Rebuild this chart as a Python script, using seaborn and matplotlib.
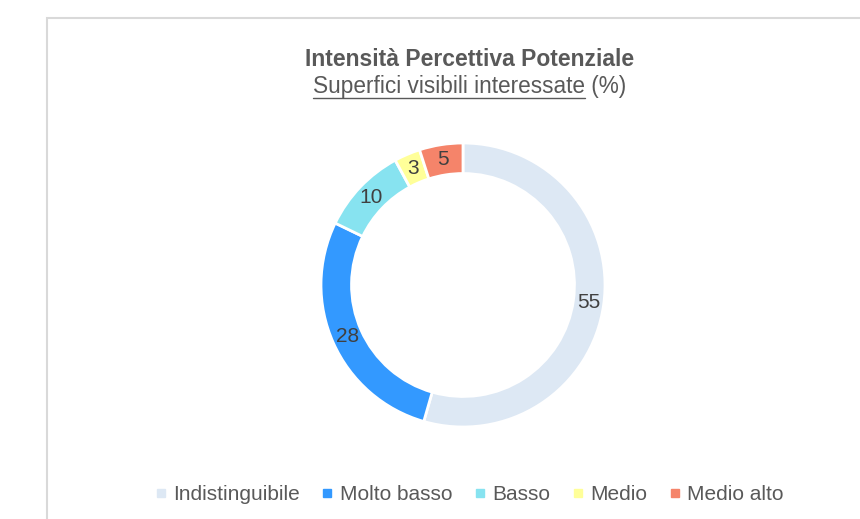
import matplotlib
matplotlib.use("Agg")
import matplotlib.pyplot as plt
from matplotlib.lines import Line2D
from matplotlib.patches import Rectangle
import numpy as np
import seaborn as sns

categories = ["Indistinguibile", "Molto basso", "Basso", "Medio", "Medio alto"]
values = [55, 28, 10, 3, 5]
colors = ["#dde8f4", "#3399ff", "#87e3f0", "#ffff99", "#f5846a"]
title = "Intensità Percettiva Potenziale"
subtitle_u = "Superfici visibili interessate"
subtitle_rest = " (%)"

sns.set_theme(style="white")
plt.rcParams["font.family"] = ["Liberation Sans", "DejaVu Sans"]

W, H = 860, 519
fig = plt.figure(figsize=(W / 100, H / 100), dpi=100)
fig.patch.set_facecolor("white")

# outer frame (partially clipped at right/bottom)
fig.add_artist(Rectangle((47 / W, -0.1), 1.0, (H - 18) / H + 0.1, transform=fig.transFigure,
                         fill=False, edgecolor="#d9d9d9", linewidth=1.5))

cx, cy, R = 463, 285, 142
ring = 0.215
ax = fig.add_axes([(cx - R) / W, (H - cy - R) / H, 2 * R / W, 2 * R / H])
wedges, _ = ax.pie(values, colors=colors, startangle=90, counterclock=False,
                   radius=1.0, wedgeprops=dict(width=ring, edgecolor="white", linewidth=2))
ax.set_xlim(-1, 1)
ax.set_ylim(-1, 1)
ax.set_aspect("equal")
ax.axis("off")

total = sum(values)
ang = 90.0
for v in values:
    mid = ang - v / total * 360 / 2
    ang -= v / total * 360
    r = 1.0 - ring / 2
    ax.text(r * np.cos(np.radians(mid)), r * np.sin(np.radians(mid)), str(v),
            ha="center", va="center", fontsize=15, color="#404040")

fig.text(470 / W, 1 - 60 / H, title, ha="center", va="center", fontsize=16.5,
         fontweight="bold", color="#595959")

fig.canvas.draw()
renderer = fig.canvas.get_renderer()
t1 = fig.text(0, 1 - 87 / H, subtitle_u, ha="left", va="center", fontsize=16.3, color="#595959")
t2 = fig.text(0, 1 - 87 / H, subtitle_rest, ha="left", va="center", fontsize=16.3, color="#595959")
w1 = t1.get_window_extent(renderer).width
w2 = t2.get_window_extent(renderer).width
x0 = 470 - (w1 + w2) / 2
t1.set_x(x0 / W)
t2.set_x((x0 + w1) / W)
yline = 1 - 98 / H
fig.add_artist(Line2D([x0 / W, (x0 + w1) / W], [yline, yline], transform=fig.transFigure,
                      color="#595959", linewidth=1))

handles = [Line2D([], [], marker="s", linestyle="none", markersize=6,
                  markerfacecolor=c, markeredgecolor=c) for c in colors]
fig.legend(handles, categories, loc="center", bbox_to_anchor=(467 / W, 1 - 495 / H),
           ncol=5, frameon=False, fontsize=15, handletextpad=0.1, columnspacing=0.82,
           labelcolor="#595959", handlelength=1.0)

fig.savefig("out.png", dpi=100, facecolor="white")
